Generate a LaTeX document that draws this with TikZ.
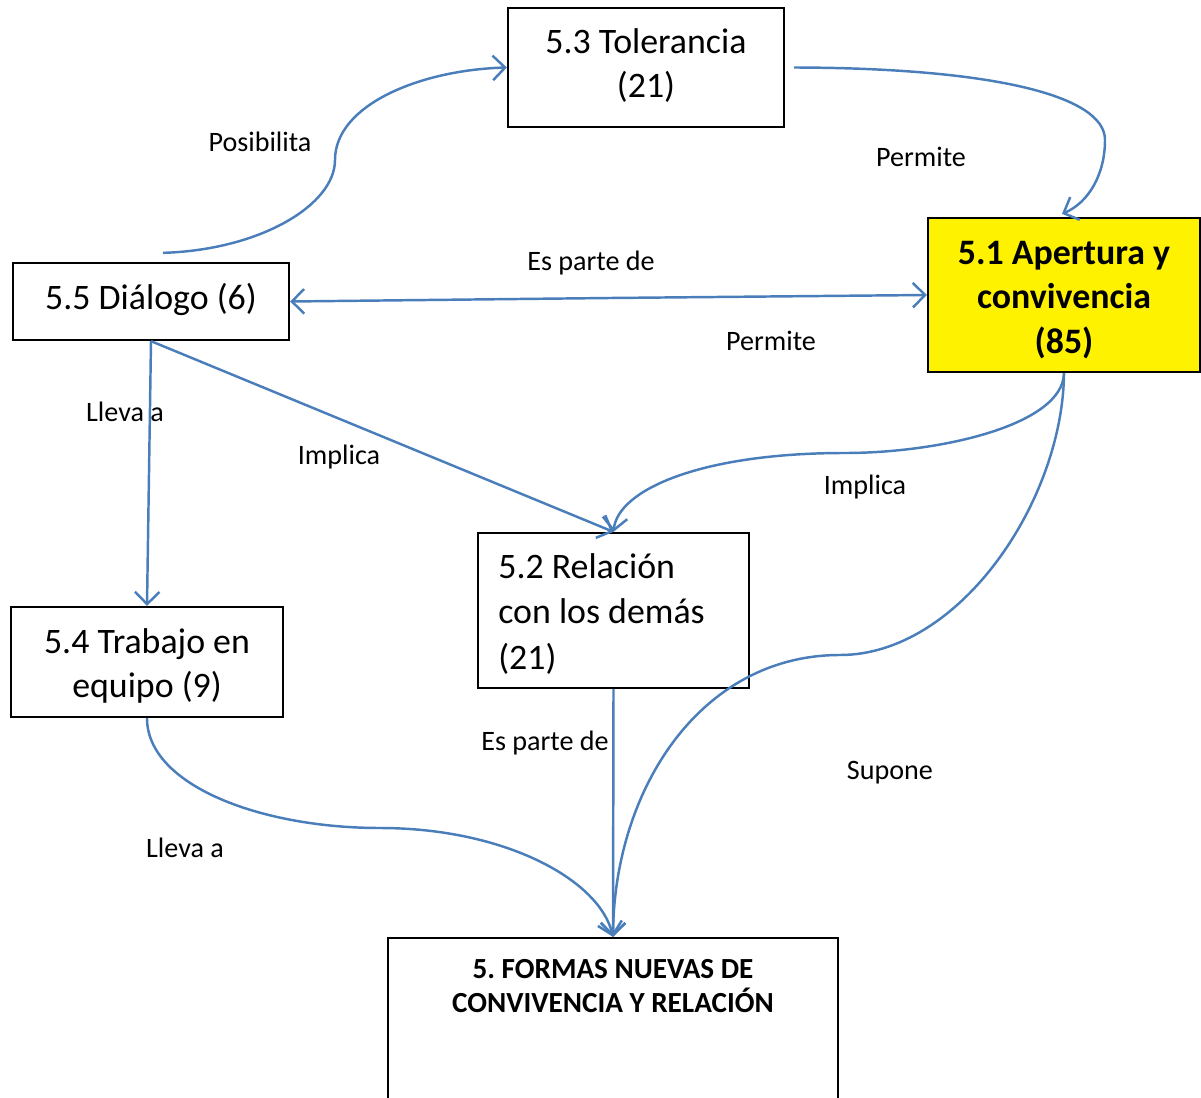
\documentclass[tikz,border=0pt]{standalone}
\usepackage{fontspec}
\setmainfont{Carlito}
\frenchspacing
\usetikzlibrary{arrows.meta,calc}
\definecolor{conn}{RGB}{74,126,187}
\tikzset{
  box/.style={draw=black, line width=1.3pt, inner sep=0pt, align=center, font=\fontsize{20.4}{25}\selectfont},
  btext/.style={inner sep=0pt, font=\fontsize{20.4}{25}\selectfont},
  lbl/.style={inner sep=0pt, font=\fontsize{16}{19}\selectfont},
  link/.style={draw=conn, line width=1.4pt, -{Straight Barb[length=7pt,width=14pt,line width=1.4pt]}},
  dlink/.style={draw=conn, line width=1.4pt, {Straight Barb[length=7pt,width=14pt,line width=1.4pt]}-{Straight Barb[length=7pt,width=14pt,line width=1.4pt]}},
}
\begin{document}
\begin{tikzpicture}[x=0.02cm,y=-0.02cm]
\useasboundingbox (0,0) rectangle (1201,1098);
% boxes
\node[box, minimum width=276*0.02cm, minimum height=119*0.02cm] (tol) at (646,67.5) {};
\node[btext, align=center] (tolt) at (646,66) {5.3 Tolerancia\\(21)};
\node[box, minimum width=276*0.02cm, minimum height=77*0.02cm] (dlg) at (151,301.5) {};
\node[btext] (dlgt) at (151,299) {5.5 Diálogo (6)};
\node[box, fill=yellow, minimum width=272*0.02cm, minimum height=154*0.02cm] (ape) at (1064,295) {};
\node[btext, align=center, font=\fontsize{20.4}{25.5}\selectfont\bfseries] (apet) at (1064,300) {5.1 Apertura y\\convivencia\\(85)};
\node[box, minimum width=272*0.02cm, minimum height=110*0.02cm] (tra) at (147,662) {};
\node[btext, align=center] (trat) at (147,666) {5.4 Trabajo en\\equipo (9)};
\node[box, minimum width=271*0.02cm, minimum height=155*0.02cm] (rel) at (613.5,610.5) {};
\node[btext, align=left, anchor=west, font=\fontsize{20.4}{25.8}\selectfont] (relt) at (498,614) {5.2 Relación\\con los demás\\(21)};
\node[box, minimum width=450*0.02cm, minimum height=162*0.02cm] (frm) at (613,1019) {};
\node[inner sep=0pt, align=center, font=\fontsize{16.6}{19.8}\selectfont\bfseries] (frmt) at (613,986) {5. FORMAS NUEVAS DE\\CONVIVENCIA Y RELACIÓN};
% labels
\node[lbl] (l1) at (260,142) {Posibilita};
\node[lbl] (l2) at (921,157) {Permite};
\node[lbl] (l3) at (591,263) {Es parte de};
\node[lbl] (l4) at (771,341) {Permite};
\node[lbl] (l5) at (125,412) {Lleva a};
\node[lbl] (l6) at (339,457) {Implica};
\node[lbl] (l7) at (865,487) {Implica};
\node[lbl] (l8) at (545,743) {Es parte de};
\node[lbl] (l9) at (890,773) {Supone};
\node[lbl] (l10) at (185,848) {Lleva a};
% connectors
\coordinate (dlgtop) at ($(dlg.north)+(12,-9)$);
\draw[link] (dlgtop) .. controls (260,250) and (335,205) .. (335,160) .. controls (335,105) and (420,70) .. (tol.west);
\draw[link] ($(tol.east)+(9,0)$) .. controls (990,68) and (1105,95) .. (1105,140) .. controls (1105,175) and (1088,203) .. ($(ape.north)+(-2,-3)$);
\draw[dlink] (dlg.east) -- (610,298) -- (ape.west);
\draw[link] (dlg.south) -- (tra.north);
\draw[link] (dlg.south) -- (rel.north);
\draw[link] (ape.south) .. controls (1063,425) and (940,453) .. (845,453) .. controls (700,453) and (618,490) .. (rel.north);
\draw[link] (ape.south) .. controls (1063,500) and (960,655) .. (840,655) .. controls (700,655) and (614,790) .. (frm.north);
\draw[link] (rel.south) -- (frm.north);
\draw[link] (tra.south) .. controls (147,785) and (260,828) .. (380,828) .. controls (505,828) and (600,880) .. (frm.north);
\end{tikzpicture}
\end{document}
